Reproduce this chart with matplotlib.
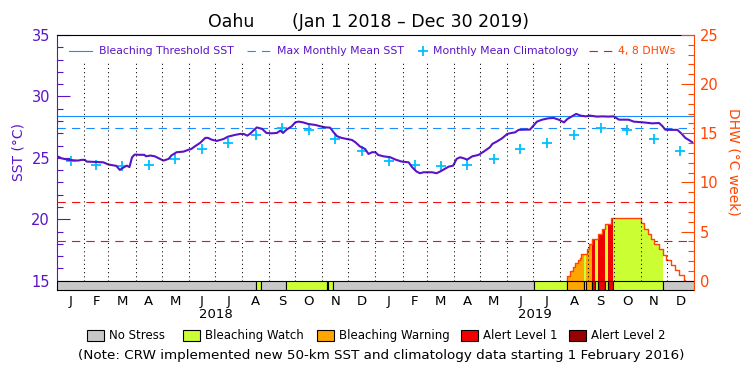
import numpy as np
import pandas as pd
import matplotlib
matplotlib.use('Agg')
import matplotlib.pyplot as plt
from matplotlib.patches import Rectangle
from matplotlib.lines import Line2D
from matplotlib.ticker import MultipleLocator

# ---------------- data ----------------
sst_days = [0, 3, 5, 13, 24, 28, 32, 34, 53, 59, 68, 72, 76, 80, 83, 86, 89, 95, 100, 102,
            107, 112, 118, 122, 128, 131, 137, 145, 151, 154, 158, 164, 170, 173, 177, 183,
            187, 191, 196, 204, 210, 214, 218, 221, 225, 229, 235, 240, 246, 252, 256, 259,
            263, 269, 273, 277, 282, 288, 296, 302, 307, 313, 317, 321, 326, 332, 338, 342,
            347, 353, 357, 361, 365, 368, 374, 382, 388, 395, 403, 407, 412, 416, 420, 430,
            435, 439, 443, 449, 454, 458, 462, 466, 470, 476, 483, 489, 496, 499, 504, 510,
            516, 521, 525, 529, 537, 542, 546, 550, 556, 563, 569, 575, 581, 585, 590, 595,
            600, 606, 611, 619, 625, 632, 638, 644, 649, 655, 661, 672, 682, 690, 694, 697,
            703, 711, 716, 720, 724, 728]
sst_values = [25.13, 25.05, 24.97, 24.84, 24.78, 24.84, 24.84, 24.70, 24.64, 24.46, 24.35,
              24.02, 24.21, 24.37, 24.25, 25.05, 25.27, 25.25, 25.25, 25.13, 25.19, 25.13,
              24.92, 24.78, 24.92, 25.19, 25.46, 25.51, 25.67, 25.73, 25.94, 26.22, 26.63,
              26.63, 26.49, 26.38, 26.46, 26.54, 26.73, 26.87, 26.95, 26.95, 26.81, 26.95,
              27.22, 27.48, 27.36, 27.03, 27.00, 27.03, 27.22, 27.03, 27.30, 27.57, 27.89,
              27.95, 27.89, 27.76, 27.68, 27.57, 27.49, 27.46, 27.08, 26.76, 26.63, 26.54,
              26.46, 26.27, 25.94, 25.73, 25.32, 25.46, 25.46, 25.24, 25.13, 25.05, 24.86,
              24.70, 24.64, 24.24, 23.89, 23.75, 23.83, 23.83, 23.75, 23.89, 24.05, 24.29,
              24.37, 24.92, 25.05, 24.97, 24.86, 25.13, 25.24, 25.51, 25.86, 26.14, 26.33,
              26.59, 26.95, 27.03, 27.08, 27.28, 27.30, 27.30, 27.63, 27.95, 28.11, 28.22,
              28.25, 28.11, 27.89, 28.17, 28.38, 28.58, 28.44, 28.38, 28.44, 28.36, 28.38,
              28.36, 28.38, 28.11, 28.11, 28.11, 27.95, 27.89, 27.81, 27.84, 27.57, 27.30,
              27.28, 27.28, 26.95, 26.63, 26.46, 26.27]

clim_values = [24.72, 24.46, 24.37, 24.46, 24.92, 25.73, 26.22, 26.87, 27.44, 27.30, 26.54, 25.59]
mmm_sst = 27.44
threshold_sst = 28.44
dhw_levels = [4, 8]

dhw_days = [585, 588, 591, 594, 597, 599, 601, 607, 610, 613, 620, 625, 628, 635,
            669, 673, 677, 681, 684, 690, 694, 698, 704, 708, 713, 718, 720]
dhw_values = [0.5, 0.95, 1.4, 1.8, 2.1, 2.35, 2.7, 3.2, 3.7, 4.25, 4.8, 5.3, 5.8, 6.36,
              5.85, 5.3, 4.8, 4.25, 3.75, 3.2, 2.65, 2.15, 1.65, 1.1, 0.6, 0.1, 0.0]

stress_starts = [0, 228, 234, 262, 309, 311, 316, 547, 585, 604, 606, 613, 617, 620, 628, 631, 637, 694]
stress_ends   = [228, 234, 262, 309, 311, 316, 547, 585, 604, 606, 613, 617, 620, 628, 631, 637, 694, 730]
stress_levels = [0, 1, 0, 1, 0, 1, 0, 1, 2, 1, 2, 3, 1, 3, 1, 3, 1, 0]

month_letters = ['J', 'F', 'M', 'A', 'M', 'J', 'J', 'A', 'S', 'O', 'N', 'D']
year_labels = ['2018', '2019']
stress_names = ['No Stress', 'Bleaching Watch', 'Bleaching Warning', 'Alert Level 1', 'Alert Level 2']

# ---------------- styles ----------------
PURPLE = '#5A14C8'
ORANGE = '#FF4500'
BLUE = '#1A8CFF'
CYAN = '#00C0FF'
RED = '#EE1111'
stress_colors = ['#C8C8C8', '#CCFF33', '#FFA500', '#F00000', '#990000']
plt.rcParams['font.family'] = ['DejaVu Sans']

W, H = 750, 375
fig = plt.figure(figsize=(7.5, 3.75), dpi=100)
fig.patch.set_facecolor('white')
L, R, T, B = 57, 694, 35, 290
ax = fig.add_axes([L / W, 1 - B / H, (R - L) / W, (B - T) / H])
ax2 = ax.twinx()

sst_lo, sst_hi = 14.25, 35.0
ax.set_ylim(sst_lo, sst_hi)
dhw_lo = -(15 - sst_lo) / (sst_hi - 15) * 25
ax2.set_ylim(dhw_lo, 25)
ax.set_xlim(0, 730)

# month geometry
mstarts = pd.date_range('2018-01-01', '2020-01-01', freq='MS')
mdays = np.asarray((mstarts - mstarts[0]).days, dtype=float)
mids = (mdays[:-1] + mdays[1:]) / 2

# SST axes content
ax.axhline(threshold_sst, color=BLUE, lw=0.8, zorder=2)
ax.axhline(mmm_sst, color=BLUE, lw=0.8, dashes=(7.5, 5.5), zorder=2)
ax.plot(sst_days, sst_values, color=PURPLE, lw=1.5, zorder=4)
ax.plot(mids, clim_values * 2, linestyle='none', marker='+', ms=6.5, mew=1.3, color=CYAN, zorder=3)

# DHW axes content
days_all = np.arange(0, 731)
dhw_daily = np.zeros(len(days_all))
for d, v in zip(dhw_days, dhw_values):
    dhw_daily[days_all >= d] = v
for lv in dhw_levels:
    ax2.axhline(lv, color=RED, lw=0.8, dashes=(7.5, 5.5), zorder=1)
for s, e, lvl in zip(stress_starts, stress_ends, stress_levels):
    if lvl == 0:
        continue
    sel = (days_all >= s) & (days_all <= e)
    ax2.fill_between(days_all[sel], 0, dhw_daily[sel], step='post',
                     color=stress_colors[lvl], lw=0, zorder=2)
ax2.step([dhw_days[0]] + dhw_days, [0] + dhw_values, where='post', color=ORANGE, lw=1.0, zorder=3)

# stress bar
widths = [e - s for s, e in zip(stress_starts, stress_ends)]
ax2.bar(stress_starts, [-dhw_lo] * len(widths), width=widths, bottom=dhw_lo, align='edge',
        color=[stress_colors[l] for l in stress_levels], edgecolor='black', lw=0.8, zorder=4)

# dotted month separators
y_top = (32.7 - sst_lo) / (sst_hi - sst_lo)
y_bot = (15 - sst_lo) / (sst_hi - sst_lo)
ax2.vlines(mdays[1:-1], y_bot, y_top, transform=ax2.get_xaxis_transform(),
           colors='black', lw=0.75, linestyles=(0, (1, 3)), zorder=5)

# spines & ticks
for sp in ['top', 'bottom']:
    ax.spines[sp].set_color('black')
    ax2.spines[sp].set_visible(False)
ax.spines['left'].set_color(PURPLE)
ax.spines['right'].set_visible(False)
ax2.spines['left'].set_visible(False)
ax2.spines['right'].set_color(ORANGE)

ax.yaxis.set_major_locator(MultipleLocator(5))
ax.yaxis.set_minor_locator(MultipleLocator(1))
ax.tick_params(axis='y', which='major', direction='in', length=9.5, width=0.8, color=PURPLE,
               labelcolor=PURPLE, labelsize=10.5, pad=5)
ax.tick_params(axis='y', which='minor', direction='in', length=4.5, width=0.8, color=PURPLE)
ax2.yaxis.set_major_locator(MultipleLocator(5))
ax2.yaxis.set_minor_locator(MultipleLocator(1))
ax2.tick_params(axis='y', which='major', direction='in', length=9.5, width=0.8, color=ORANGE,
                labelcolor=ORANGE, labelsize=10.5, pad=4)
ax2.tick_params(axis='y', which='minor', direction='in', length=4.5, width=0.8, color=ORANGE)

ax.set_xticks(mids)
ax.set_xticklabels(month_letters * 2)
ax.tick_params(axis='x', length=0, pad=3.5, labelsize=9.5)
for i, yl in enumerate(year_labels):
    ax.text((mdays[12 * i] + mdays[12 * i + 12]) / 2, -(315 - B) / (B - T), yl,
            transform=ax.get_xaxis_transform(), ha='center', va='center', fontsize=9.5)

fig.text(18 / W, 1 - 152 / H, 'SST (°C)', rotation=90, ha='center', va='center', color=PURPLE, fontsize=10)
fig.text(733 / W, 1 - 162 / H, 'DHW (°C week)', rotation=270, ha='center', va='center', color=ORANGE, fontsize=10)

# title
fig.text(208 / W, 1 - 22 / H, 'Oahu', ha='left', va='center', fontsize=12.5)
fig.text(292 / W, 1 - 22 / H, '(Jan 1 2018 \u2013 Dec 30 2019)', ha='left', va='center', fontsize=12.5)

# legend inside plot
ly = 1 - 51 / H
LFS = 7.8
fig.add_artist(Line2D([69 / W, 92 / W], [ly, ly], color=BLUE, lw=0.8))
fig.text(99 / W, ly, 'Bleaching Threshold SST', ha='left', va='center', color=PURPLE, fontsize=LFS)
fig.add_artist(Line2D([247 / W, 270 / W], [ly, ly], color=BLUE, lw=0.8, dashes=(7.5, 5.5)))
fig.text(277 / W, ly, 'Max Monthly Mean SST', ha='left', va='center', color=PURPLE, fontsize=LFS)
fig.add_artist(Line2D([423 / W], [ly], color=CYAN, marker='+', ms=6.5, mew=1.3, linestyle='none'))
fig.text(433 / W, ly, 'Monthly Mean Climatology', ha='left', va='center', color=PURPLE, fontsize=LFS)
fig.add_artist(Line2D([589 / W, 612 / W], [ly, ly], color=RED, lw=0.8, dashes=(7.5, 5.5)))
fig.text(618 / W, ly, '4, 8 DHWs', ha='left', va='center', color=ORANGE, fontsize=LFS)

# stress legend
box_x = [87, 183, 317, 461, 569]
for bx, name, col in zip(box_x, stress_names, stress_colors):
    fig.add_artist(Rectangle((bx / W, 1 - 341 / H), 17 / W, 11 / H, transform=fig.transFigure,
                             facecolor=col, edgecolor='black', lw=0.8))
    fig.text((bx + 22) / W, 1 - 335.5 / H, name, ha='left', va='center', fontsize=8.5)

fig.text(381 / W, 1 - 355 / H,
         '(Note: CRW implemented new 50-km SST and climatology data starting 1 February 2016)',
         ha='center', va='center', fontsize=9.7)

fig.savefig('out.png', dpi=100)
